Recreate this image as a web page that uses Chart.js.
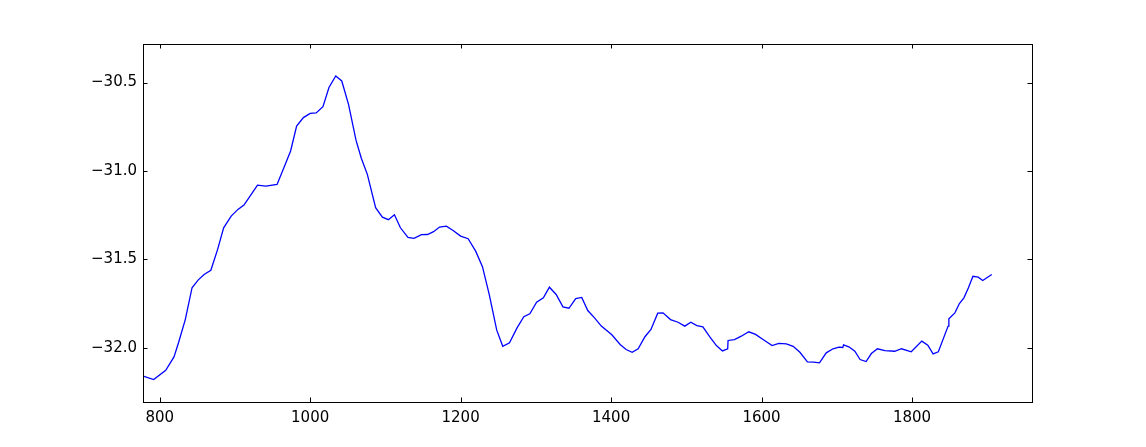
<!DOCTYPE html>
<html>
<head>
<meta charset="utf-8">
<script src="https://cdn.jsdelivr.net/npm/chart.js@4/dist/chart.umd.min.js"></script>
<style>
  html, body { margin: 0; padding: 0; background: #ffffff; }
  canvas { display: block; }
</style>
</head>
<body>
<canvas id="c" width="1146" height="447"></canvas>
<script>
const years = [778, 792, 808, 819, 825, 834, 843, 851, 859, 868, 877, 885, 895, 904, 912, 921, 930, 941, 956, 966, 974, 982, 991, 1000, 1008, 1017, 1025, 1034, 1042, 1051, 1061, 1068, 1076, 1087, 1096, 1104, 1112, 1120, 1130, 1138, 1148, 1156, 1164, 1172, 1181, 1190, 1200, 1210, 1220, 1229, 1238, 1248, 1256, 1265, 1275, 1284, 1292, 1301, 1310, 1318, 1327, 1336, 1344, 1353, 1361, 1369, 1378, 1387, 1401, 1412, 1420, 1428, 1436, 1445, 1453, 1462, 1469, 1479, 1489, 1498, 1506, 1514, 1522, 1531, 1540, 1548, 1555, 1555.5, 1564, 1573, 1583, 1592, 1602, 1614, 1623, 1633, 1642, 1651, 1661, 1669, 1677, 1686, 1695, 1703, 1708, 1709, 1716, 1724, 1731, 1739, 1746, 1754, 1764, 1777, 1786, 1799, 1813, 1821, 1828, 1835, 1848, 1849, 1857, 1863, 1869, 1875, 1881, 1888, 1894, 1906];
const values = [-32.160, -32.179, -32.127, -32.051, -31.971, -31.840, -31.660, -31.617, -31.585, -31.561, -31.443, -31.321, -31.255, -31.217, -31.193, -31.136, -31.080, -31.085, -31.076, -30.972, -30.887, -30.746, -30.698, -30.674, -30.672, -30.636, -30.528, -30.463, -30.491, -30.623, -30.827, -30.928, -31.019, -31.207, -31.261, -31.275, -31.247, -31.321, -31.376, -31.381, -31.360, -31.359, -31.343, -31.317, -31.312, -31.336, -31.368, -31.383, -31.453, -31.541, -31.698, -31.900, -31.991, -31.971, -31.887, -31.824, -31.807, -31.742, -31.717, -31.657, -31.698, -31.768, -31.776, -31.721, -31.715, -31.789, -31.830, -31.877, -31.926, -31.981, -32.009, -32.025, -32.005, -31.937, -31.896, -31.804, -31.802, -31.840, -31.855, -31.877, -31.855, -31.874, -31.881, -31.937, -31.987, -32.017, -32.005, -31.958, -31.953, -31.934, -31.909, -31.924, -31.953, -31.987, -31.975, -31.977, -31.991, -32.025, -32.079, -32.081, -32.085, -32.028, -32.005, -31.996, -31.998, -31.983, -31.994, -32.019, -32.066, -32.077, -32.032, -32.005, -32.015, -32.019, -32.005, -32.022, -31.962, -31.985, -32.034, -32.022, -31.877, -31.836, -31.802, -31.749, -31.717, -31.660, -31.595, -31.600, -31.619, -31.585];
const xTicks = [800, 1000, 1200, 1400, 1600, 1800];
const yTicks = [-32.0, -31.5, -31.0, -30.5];

const points = years.map((x, i) => ({ x: x, y: values[i] }));

const frameTicks = {
  id: 'frameTicks',
  afterDatasetsDraw(chart) {
    const ctx = chart.ctx;
    const a = chart.chartArea;
    const xs = chart.scales.x, ys = chart.scales.y;
    const L = 4.5;
    ctx.save();
    ctx.strokeStyle = '#000000';
    ctx.lineWidth = 1;
    ctx.beginPath();
    xTicks.forEach(v => {
      const px = Math.round(xs.getPixelForValue(v)) + 0.5;
      ctx.moveTo(px, a.bottom); ctx.lineTo(px, a.bottom - L);
      ctx.moveTo(px, a.top); ctx.lineTo(px, a.top + L);
    });
    yTicks.forEach(v => {
      const py = Math.round(ys.getPixelForValue(v)) + 0.5;
      ctx.moveTo(a.left, py); ctx.lineTo(a.left + L, py);
      ctx.moveTo(a.right, py); ctx.lineTo(a.right - L, py);
    });
    ctx.stroke();
    ctx.strokeRect(Math.round(a.left) + 0.5, Math.round(a.top) + 0.5,
                   Math.round(a.right - a.left), Math.round(a.bottom - a.top));
    ctx.restore();
  }
};

new Chart(document.getElementById('c'), {
  type: 'line',
  data: {
    datasets: [{
      data: points,
      borderColor: '#0000ff',
      borderWidth: 1.3,
      pointRadius: 0,
      tension: 0,
      fill: false
    }]
  },
  options: {
    responsive: false,
    animation: false,
    maintainAspectRatio: false,
    layout: { padding: { left: 0, right: 114, top: 44, bottom: 0 } },
    plugins: { legend: { display: false }, tooltip: { enabled: false } },
    scales: {
      x: {
        type: 'linear',
        min: 777.8,
        max: 1959.5,
        grid: { display: false, drawTicks: false },
        border: { display: false },
        afterBuildTicks: s => { s.ticks = xTicks.map(v => ({ value: v })); },
        afterFit: s => { s.height = 45; },
        ticks: {
          padding: 7,
          color: '#000000',
          maxRotation: 0,
          autoSkip: false,
          font: { family: 'DejaVu Sans', size: 15 },
          callback: v => String(v)
        }
      },
      y: {
        type: 'linear',
        min: -32.306,
        max: -30.282,
        grid: { display: false, drawTicks: false },
        border: { display: false },
        afterBuildTicks: s => { s.ticks = yTicks.map(v => ({ value: v })); },
        afterFit: s => { s.width = 143; },
        ticks: {
          padding: 6,
          color: '#000000',
          autoSkip: false,
          font: { family: 'DejaVu Sans', size: 15 },
          callback: v => Number(v).toFixed(1).replace('-', '\u2212')
        }
      }
    }
  },
  plugins: [frameTicks]
});
</script>
</body>
</html>
